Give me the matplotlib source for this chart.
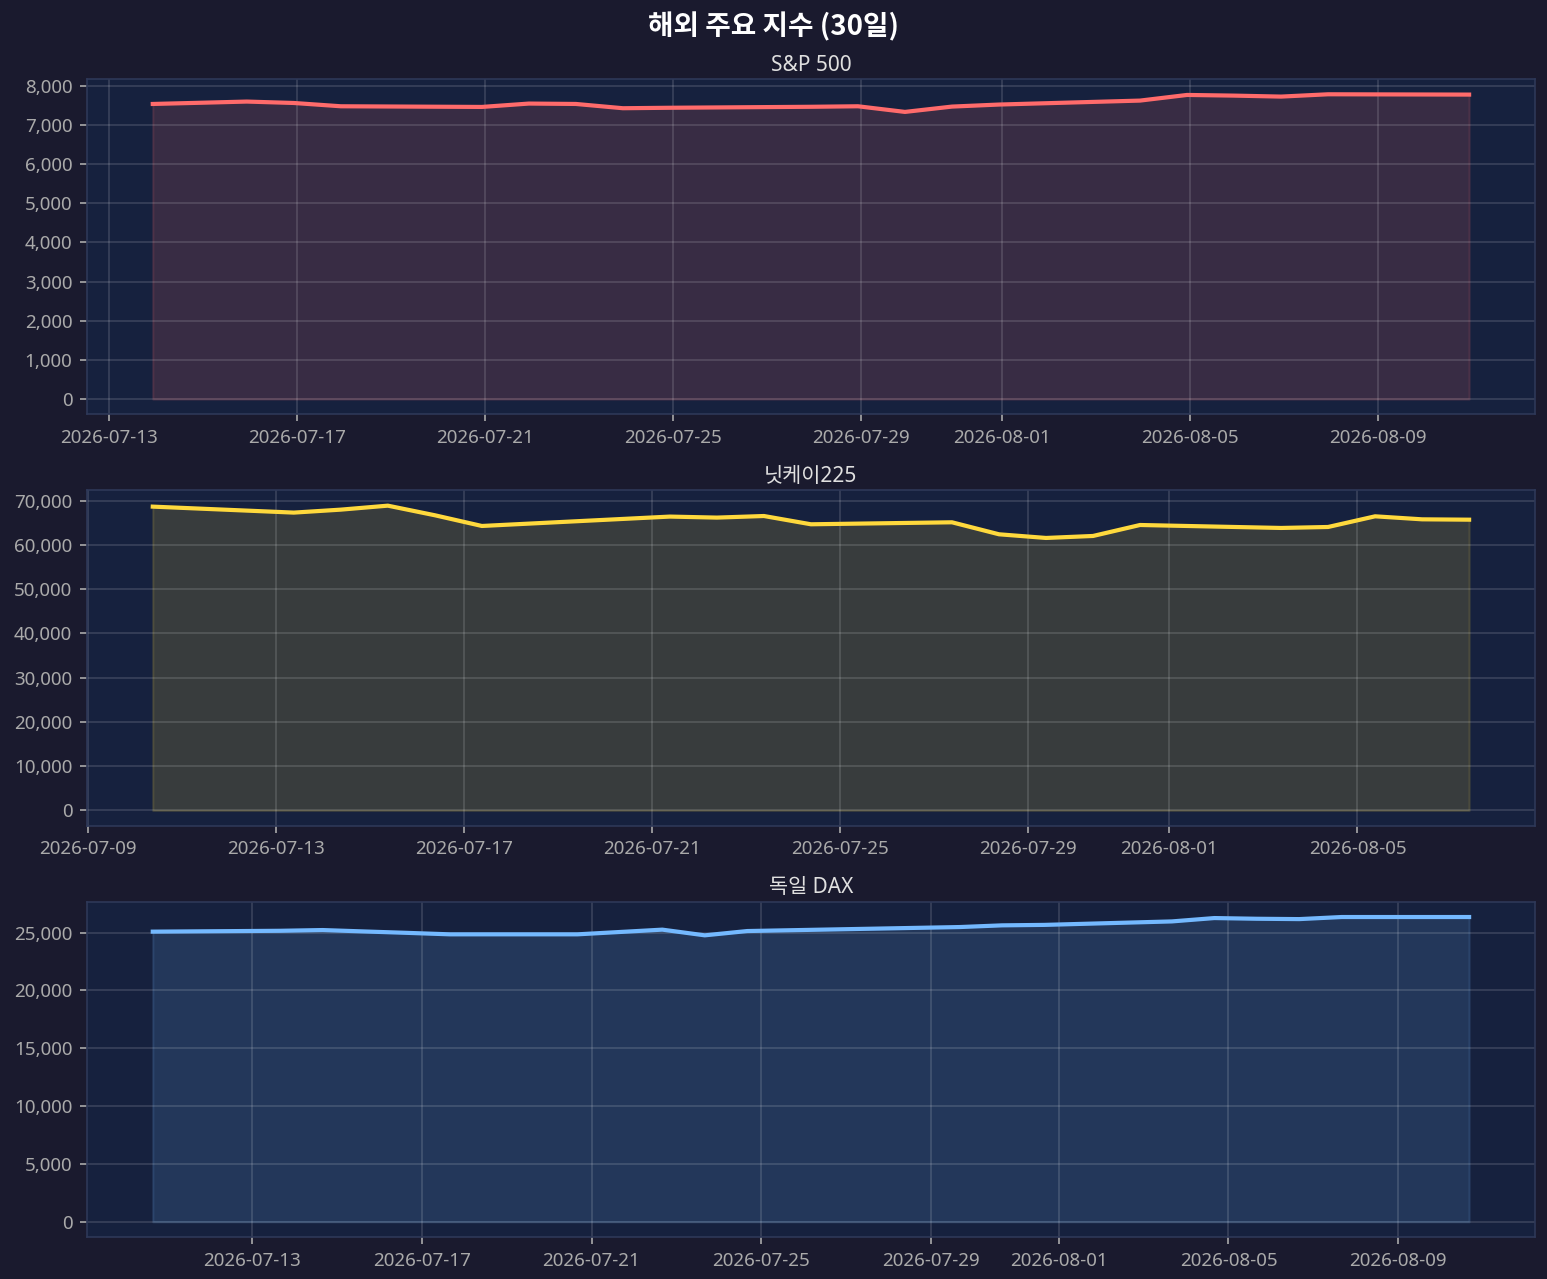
import matplotlib
matplotlib.use('Agg')
import matplotlib.pyplot as plt
import matplotlib.dates as mdates
import matplotlib.ticker as mticker
import pandas as pd

plt.rcParams['font.family'] = ['Noto Sans', 'Noto Sans CJK KR', 'DejaVu Sans']
plt.rcParams['axes.unicode_minus'] = False

# 데이터 (종가, 거래일 기준)
sp500_dates = ['2026-07-13', '2026-07-14', '2026-07-15', '2026-07-16', '2026-07-17',
               '2026-07-20', '2026-07-21', '2026-07-22', '2026-07-23', '2026-07-24',
               '2026-07-27', '2026-07-28', '2026-07-29', '2026-07-30', '2026-07-31',
               '2026-08-03', '2026-08-04', '2026-08-05', '2026-08-06', '2026-08-07',
               '2026-08-10']
sp500_close = [7532, 7562, 7593, 7557, 7473, 7456, 7542, 7532, 7423, 7435,
               7460, 7473, 7329, 7465, 7517, 7618, 7762, 7745, 7720, 7779, 7771]
sp500_time = '22:30'

nikkei_dates = ['2026-07-10', '2026-07-13', '2026-07-14', '2026-07-15', '2026-07-16',
                '2026-07-17', '2026-07-21', '2026-07-22', '2026-07-23', '2026-07-24',
                '2026-07-27', '2026-07-28', '2026-07-29', '2026-07-30', '2026-07-31',
                '2026-08-03', '2026-08-04', '2026-08-05', '2026-08-06', '2026-08-07']
nikkei_close = [68650, 67300, 67970, 68870, 66700, 64280, 66400, 66170, 66530, 64660,
                65110, 62400, 61570, 62020, 64500, 63830, 64050, 66460, 65780, 65700]
nikkei_time = '09:00'

dax_dates = ['2026-07-10', '2026-07-13', '2026-07-14', '2026-07-15', '2026-07-16',
             '2026-07-17', '2026-07-20', '2026-07-21', '2026-07-22', '2026-07-23',
             '2026-07-24', '2026-07-27', '2026-07-28', '2026-07-29', '2026-07-30',
             '2026-07-31', '2026-08-03', '2026-08-04', '2026-08-05', '2026-08-06',
             '2026-08-07', '2026-08-10']
dax_close = [25086, 25160, 25224, 25100, 24980, 24853, 24853, 25056, 25259, 24767,
             25138, 25345, 25414, 25483, 25630, 25670, 25970, 26260, 26200, 26170,
             26350, 26350]
dax_time = '16:00'

titles = ['S&P 500', '닛케이225', '독일 DAX']
colors = ['#ff6b6b', '#ffd93d', '#74b9ff']
y_steps = [1000, 10000, 5000]

series = [
    (sp500_dates, sp500_close, sp500_time),
    (nikkei_dates, nikkei_close, nikkei_time),
    (dax_dates, dax_close, dax_time),
]

BG = '#1a1a2e'
PANEL = '#16213e'
TICK = '#aaaaaa'

fig, axes = plt.subplots(3, 1, figsize=(1547 / 150, 1279 / 150), dpi=150)
fig.patch.set_facecolor(BG)
fig.subplots_adjust(left=0.0562, right=0.9922, top=0.9382, bottom=0.0328, hspace=0.227)

for ax, (dates, close, t), title, color, step in zip(axes, series, titles, colors, y_steps):
    x = pd.to_datetime(dates) + pd.Timedelta(t + ':00')
    ax.set_facecolor(PANEL)
    ax.plot(x, close, color=color, lw=2)
    ax.fill_between(x, close, 0, color=color, alpha=0.15)
    ax.set_title(title, color='#e0e0e0', fontsize=10, pad=4)

    ax.xaxis.set_major_locator(mdates.DayLocator(bymonthday=range(1, 32, 4)))
    ax.xaxis.set_major_formatter(mdates.DateFormatter('%Y-%m-%d'))
    ax.yaxis.set_major_locator(mticker.MultipleLocator(step))
    ax.yaxis.set_major_formatter(mticker.StrMethodFormatter('{x:,.0f}'))

    ax.tick_params(colors=TICK, labelsize=9)
    ax.grid(True, color='white', alpha=0.15, lw=0.8)
    for sp in ax.spines.values():
        sp.set_color('#2e3858')
        sp.set_linewidth(0.8)

fig.suptitle('해외 주요 지수 (30일)', color='white', fontsize=13.3, fontweight='bold',
             y=0.979, va='center', family=['Noto Sans CJK KR', 'DejaVu Sans'])

fig.savefig('out.png', dpi=150, facecolor=BG)
